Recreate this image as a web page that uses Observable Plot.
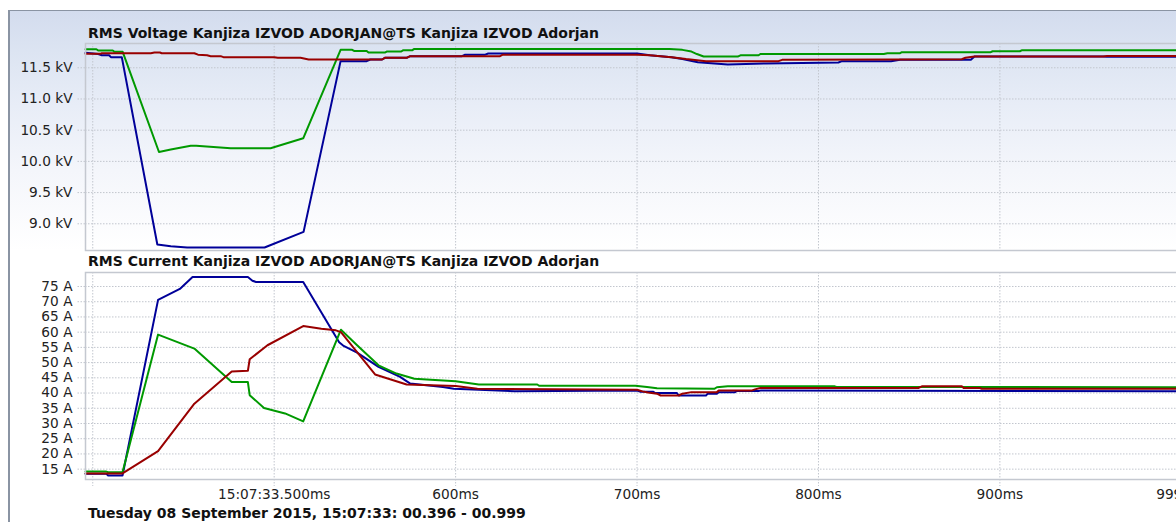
<!DOCTYPE html>
<html><head><meta charset="utf-8">
<script src="https://cdn.jsdelivr.net/npm/d3@7"></script>
<script src="https://cdn.jsdelivr.net/npm/@observablehq/plot@0.6"></script>
<style>
html,body{margin:0;padding:0;background:#fff;overflow:hidden;}
#wrap{position:relative;width:1176px;height:522px;overflow:hidden;font-family:"DejaVu Sans",Verdana,sans-serif;}
#bg{position:absolute;left:10px;top:11px;width:1166px;height:250px;background:linear-gradient(#d3dcee 0px,#dce4f2 40px,#e8edf7 95px,#f4f6fb 160px,#ffffff 240px);}
#bline{position:absolute;left:9px;top:10px;width:1167px;height:1px;background:#8a94a3;}
#lline{position:absolute;left:8px;top:10px;width:2px;height:512px;background:#8a94a3;}
.title{position:absolute;left:88px;font-weight:bold;font-size:14px;line-height:16px;color:#111;white-space:nowrap;}
.chart{position:absolute;left:0;}
</style></head><body>
<div id="wrap">
  <div id="bg"></div>
  <div id="bline"></div>
  <div id="lline"></div>
  <div class="title" style="top:25px">RMS Voltage Kanjiza IZVOD ADORJAN@TS Kanjiza IZVOD Adorjan</div>
  <div class="chart" id="c1" style="top:38px"></div>
  <div class="title" style="top:253px">RMS Current Kanjiza IZVOD ADORJAN@TS Kanjiza IZVOD Adorjan</div>
  <div class="chart" id="c2" style="top:266px"></div>
  <div class="title" style="top:505px">Tuesday 08 September 2015, 15:07:33: 00.396 - 00.999</div>
</div>
<script>
// ---- ticks ----
const xTicks = [400, 500, 600, 700, 800, 900, 999];
const xTickLabels = ["", "15:07:33.500ms", "600ms", "700ms", "800ms", "900ms", "999ms"];
const voltTicks = [9.0, 9.5, 10.0, 10.5, 11.0, 11.5];
const voltTickLabels = ["9.0 kV", "9.5 kV", "10.0 kV", "10.5 kV", "11.0 kV", "11.5 kV"];
const currTicks = [15, 20, 25, 30, 35, 40, 45, 50, 55, 60, 65, 70, 75];
const currTickLabels = ["15 A", "20 A", "25 A", "30 A", "35 A", "40 A", "45 A", "50 A", "55 A", "60 A", "65 A", "70 A", "75 A"];

// ---- RMS voltage (kV) ----
const voltBlueT = [396, 403, 405, 409, 410, 416, 435.6, 443, 452, 494.7, 516.2, 536.6, 551, 553, 559.5, 561, 573, 575, 603.5, 605, 616, 618, 700, 707, 719, 725, 733.5, 750, 771, 811, 813, 840, 845, 879, 884, 886, 957, 959, 999];
const voltBlueV = [11.74, 11.72, 11.70, 11.70, 11.67, 11.67, 8.668, 8.64, 8.62, 8.62, 8.87, 11.606, 11.606, 11.633, 11.633, 11.66, 11.66, 11.686, 11.686, 11.707, 11.707, 11.728, 11.728, 11.70, 11.67, 11.64, 11.59, 11.553, 11.57, 11.585, 11.606, 11.606, 11.63, 11.63, 11.63, 11.68, 11.68, 11.675, 11.675];

const voltGreenT = [396, 402, 403, 411, 412, 416.5, 436.5, 443, 454, 457, 476, 498, 516, 536.6, 543, 544, 551, 552, 561, 562, 570, 571, 576, 577, 718, 725, 730, 733, 736.7, 755.5, 757, 767, 768, 836, 838, 845, 846, 895, 896, 911, 912, 999];
const voltGreenV = [11.797, 11.797, 11.776, 11.776, 11.755, 11.755, 10.15, 10.19, 10.25, 10.25, 10.21, 10.21, 10.37, 11.787, 11.787, 11.77, 11.77, 11.744, 11.744, 11.76, 11.76, 11.78, 11.78, 11.80, 11.80, 11.787, 11.76, 11.72, 11.68, 11.68, 11.70, 11.70, 11.72, 11.72, 11.733, 11.733, 11.75, 11.75, 11.765, 11.765, 11.78, 11.78];

const voltRedT = [396, 404, 405, 432, 434, 437, 438, 456, 458, 463, 465, 470.5, 472, 500, 502, 514.5, 519, 559.5, 561, 573, 575, 624.5, 626, 700, 707, 719, 727, 738, 778, 780, 844, 879, 881, 886, 957, 959, 999];
const voltRedV = [11.723, 11.723, 11.733, 11.733, 11.744, 11.744, 11.733, 11.733, 11.71, 11.70, 11.686, 11.686, 11.67, 11.67, 11.66, 11.66, 11.633, 11.633, 11.66, 11.66, 11.686, 11.686, 11.71, 11.71, 11.70, 11.67, 11.64, 11.606, 11.606, 11.627, 11.632, 11.637, 11.66, 11.68, 11.68, 11.69, 11.69];

// ---- RMS current (A) ----
const currBlueT = [396, 407.5, 408.5, 416.4, 436, 448, 455, 485.5, 488, 490, 516, 535.8, 538, 545.7, 557.5, 569.4, 575, 593, 599, 632.6, 700, 702, 709, 710, 722, 723, 738, 739, 744, 745, 754, 755, 767, 768, 999];
const currBlueA = [13.5, 13.5, 12.9, 12.9, 70.6, 74.2, 78.1, 78.1, 76.9, 76.5, 76.5, 56.7, 55.6, 53.3, 48.6, 45.3, 43.1, 42.0, 41.4, 40.6, 40.8, 40.4, 40.4, 40.0, 40.0, 39.2, 39.2, 39.8, 39.8, 40.3, 40.3, 40.7, 40.7, 40.8, 40.6];

const currGreenT = [396, 407.5, 408.5, 416.4, 436, 456, 476.6, 485.5, 486.5, 494.4, 506, 516, 536.8, 545.7, 557.5, 567.4, 577.3, 600, 612.8, 645, 646, 699, 705.5, 711, 742.6, 744, 750, 809, 810, 999];
const currGreenA = [14.2, 14.2, 14.0, 14.0, 59.2, 54.6, 43.6, 43.6, 39.3, 35.1, 33.3, 30.7, 60.8, 55.7, 49.1, 46.4, 44.7, 43.9, 42.8, 42.8, 42.4, 42.4, 42.0, 41.6, 41.4, 41.9, 42.2, 42.2, 42.0, 41.9];

const currRedT = [396, 416.4, 436, 456, 476.6, 485.5, 486.5, 496.3, 516, 526, 534, 536.8, 555.6, 573, 600, 612, 700, 703, 706, 711, 713, 723, 725, 730, 744, 745, 763, 765, 768, 855, 857, 879, 880, 889, 890, 999];
const currRedA = [13.6, 13.6, 20.9, 36.5, 47.1, 47.3, 51.1, 55.7, 62.0, 61.1, 60.6, 60.0, 46.1, 42.8, 42.3, 41.4, 41.1, 40.55, 40.2, 39.8, 39.2, 39.2, 39.8, 40.3, 40.3, 40.8, 40.8, 41.2, 41.65, 41.65, 42.2, 42.2, 41.65, 41.65, 41.4, 41.4];

const seriesColors = {blue: "#000099", green: "#009900", red: "#990000"};

function zip(ts, vs) { return ts.map((t, i) => ({t, v: vs[i]})); }
const fmt = (ticks, labels) => { const m = new Map(ticks.map((d, i) => [d, labels[i]])); return d => m.get(d) ?? ""; };

const gridStyle = {stroke: "#c2c6ce", strokeOpacity: 1, strokeDasharray: "1.5,1.5", strokeWidth: 1};
const baseStyle = {background: "transparent", fontFamily: "'DejaVu Sans', Verdana, sans-serif", fontSize: "13.7px", color: "#222", maxWidth: "none", overflow: "visible"};
const tickStyle = {stroke: "#c2c6ce", strokeDasharray: "1.5,1.5", fill: "#222", fontSize: 13.7, label: null};

const c1 = Plot.plot({
  width: 1190, height: 217,
  marginLeft: 85, marginRight: 11, marginTop: 5, marginBottom: 5,
  style: baseStyle,
  x: {domain: [396, 999], axis: null, label: null},
  y: {domain: [8.572, 11.889], label: null},
  marks: [
    Plot.gridX(xTicks, gridStyle),
    Plot.gridY(voltTicks, gridStyle),
    Plot.axisY(voltTicks, {...tickStyle, tickSize: 8, tickPadding: 5, tickFormat: fmt(voltTicks, voltTickLabels)}),
    Plot.line(zip(voltBlueT, voltBlueV), {x: "t", y: "v", stroke: seriesColors.blue, strokeWidth: 2}),
    Plot.line(zip(voltGreenT, voltGreenV), {x: "t", y: "v", stroke: seriesColors.green, strokeWidth: 2}),
    Plot.line(zip(voltRedT, voltRedV), {x: "t", y: "v", stroke: seriesColors.red, strokeWidth: 2}),
    Plot.frame({stroke: "#c4c8d0", strokeWidth: 1.5})
  ]
});
document.getElementById("c1").append(c1);

const c2 = Plot.plot({
  width: 1190, height: 243,
  marginLeft: 85, marginRight: 11, marginTop: 6, marginBottom: 30,
  style: baseStyle,
  x: {domain: [396, 999], label: null},
  y: {domain: [11.6, 79.6], label: null},
  marks: [
    Plot.gridX(xTicks, gridStyle),
    Plot.gridY(currTicks, gridStyle),
    Plot.axisY(currTicks, {...tickStyle, tickSize: 8, tickPadding: 5, tickFormat: fmt(currTicks, currTickLabels)}),
    Plot.axisX(xTicks, {...tickStyle, tickSize: 7, tickPadding: 3, tickFormat: fmt(xTicks, xTickLabels)}),
    Plot.line(zip(currBlueT, currBlueA), {x: "t", y: "v", stroke: seriesColors.blue, strokeWidth: 2}),
    Plot.line(zip(currGreenT, currGreenA), {x: "t", y: "v", stroke: seriesColors.green, strokeWidth: 2}),
    Plot.line(zip(currRedT, currRedA), {x: "t", y: "v", stroke: seriesColors.red, strokeWidth: 2}),
    Plot.frame({stroke: "#c4c8d0", strokeWidth: 1.5})
  ]
});
document.getElementById("c2").append(c2);
</script>
</body></html>
